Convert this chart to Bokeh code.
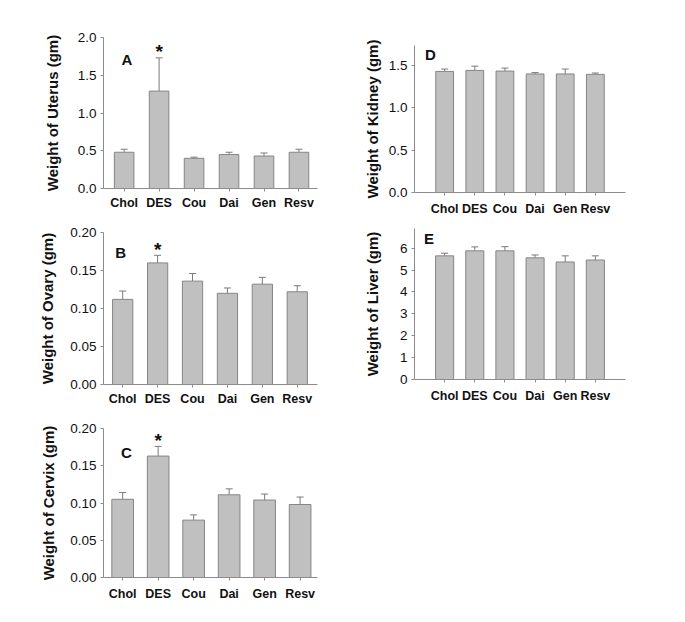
from bokeh.plotting import figure
from bokeh.models import ColumnDataSource, Whisker, TeeHead, FixedTicker, NumeralTickFormatter, Range1d
from bokeh.layouts import row, column
from bokeh.embed import file_html
from bokeh.resources import INLINE
from bokeh.core.properties import value

# ---------------- data ----------------
groups = ["Chol", "DES", "Cou", "Dai", "Gen", "Resv"]

uterus = [0.48, 1.29, 0.40, 0.45, 0.43, 0.48]
uterus_se = [0.04, 0.44, 0.015, 0.03, 0.04, 0.04]

ovary = [0.112, 0.160, 0.136, 0.120, 0.132, 0.122]
ovary_se = [0.011, 0.010, 0.010, 0.007, 0.009, 0.008]

cervix = [0.105, 0.163, 0.077, 0.111, 0.104, 0.098]
cervix_se = [0.009, 0.013, 0.007, 0.008, 0.008, 0.010]

kidney = [1.425, 1.437, 1.429, 1.395, 1.395, 1.390]
kidney_se = [0.028, 0.050, 0.035, 0.016, 0.058, 0.016]

liver = [5.65, 5.88, 5.88, 5.56, 5.37, 5.46]
liver_se = [0.12, 0.18, 0.19, 0.13, 0.28, 0.19]

significant = ["DES"]  # marked with *

# ---------------- style ----------------
FONT = "Liberation Sans"
BAR_FILL = "#c0c0c0"
BAR_LINE = "#858585"
AXIS_COLOR = "#8c8c8c"
TEXT = "#111111"


def panel(vals, se, ylabel, letter, letter_pos, xr, yr, yticks, yfmt,
          border, frame, bar_w, label_standoff, xlab_standoff, star=True):
    bl, br, bt, bb = border
    fw, fh = frame
    p = figure(width=bl + fw + br, height=bt + fh + bb,
               x_range=Range1d(*xr), y_range=Range1d(*yr),
               output_backend="svg", toolbar_location=None,
               min_border_left=bl, min_border_right=br,
               min_border_top=bt, min_border_bottom=bb)
    p.outline_line_color = None
    p.xgrid.grid_line_color = None
    p.ygrid.grid_line_color = None
    p.background_fill_color = "white"
    p.border_fill_color = "white"

    xs = list(range(1, len(groups) + 1))
    upper = [v + e for v, e in zip(vals, se)]
    src = ColumnDataSource(dict(x=xs, top=vals, upper=upper, name=groups))
    p.vbar(x="x", top="top", width=bar_w, source=src,
           fill_color=BAR_FILL, line_color=BAR_LINE, line_width=1)
    w = Whisker(base="x", upper="upper", lower="top", source=src,
                dimension="height", line_color="#7a7a7a", line_width=1,
                lower_head=None,
                upper_head=TeeHead(size=7, line_color="#7a7a7a", line_width=1))
    p.add_layout(w)

    if star:
        sx = [x for x, g in zip(xs, groups) if g in significant]
        sy = [u for u, g in zip(upper, groups) if g in significant]
        p.text(x=sx, y=sy, text=["*"] * len(sx), text_align="center",
               text_baseline="alphabetic", y_offset=-6,
               text_font=value(FONT), text_font_style="bold",
               text_font_size="19px", text_color=TEXT)

    p.text(x=[letter_pos[0]], y=[letter_pos[1]], text=[letter],
           text_align="center", text_baseline="middle",
           text_font=value(FONT), text_font_style="bold",
           text_font_size="15px", text_color=TEXT)

    # x axis
    xa = p.xaxis[0]
    xa.ticker = FixedTicker(ticks=xs)
    xa.major_label_overrides = {x: g for x, g in zip(xs, groups)}
    xa.minor_tick_line_color = None
    xa.major_tick_out = 3
    xa.major_tick_in = 0
    xa.axis_line_color = AXIS_COLOR
    xa.major_tick_line_color = AXIS_COLOR
    xa.major_label_text_font = FONT
    xa.major_label_text_font_style = "bold"
    xa.major_label_text_font_size = "12.5px"
    xa.major_label_text_color = TEXT
    xa.major_label_standoff = xlab_standoff

    # y axis
    ya = p.yaxis[0]
    ya.ticker = FixedTicker(ticks=yticks)
    ya.formatter = NumeralTickFormatter(format=yfmt)
    ya.minor_tick_line_color = None
    ya.major_tick_out = 3
    ya.major_tick_in = 0
    ya.axis_line_color = AXIS_COLOR
    ya.major_tick_line_color = AXIS_COLOR
    ya.major_label_text_font = FONT
    ya.major_label_text_font_size = "13.5px"
    ya.major_label_text_color = TEXT
    ya.major_label_standoff = 4
    ya.axis_label = ylabel
    ya.axis_label_text_font = FONT
    ya.axis_label_text_font_style = "bold"
    ya.axis_label_text_font_size = "15px"
    ya.axis_label_text_color = TEXT
    ya.axis_label_standoff = label_standoff
    return p


pA = panel(uterus, uterus_se, "Weight of Uterus (gm)", "A", (1.08, 1.71),
           (0.41, 6.53), (0, 2.0), [0, 0.5, 1.0, 1.5, 2.0], "0.0",
           (99, 23, 37, 27), (218, 151), 0.56, 14, 4)
pB = panel(ovary, ovary_se, "Weight of Ovary (gm)", "B", (0.945, 0.1737),
           (0.45, 6.58), (0, 0.20), [0, 0.05, 0.10, 0.15, 0.20], "0.00",
           (102, 15, 17, 26), (223, 152), 0.58, 11, 4)
pC = panel(cervix, cervix_se, "Weight of Cervix (gm)", "C", (1.108, 0.1674),
           (0.46, 6.49), (0, 0.20), [0, 0.05, 0.10, 0.15, 0.20], "0.00",
           (103, 23, 18, 35), (214, 149), 0.61, 10, 6)
pD = panel(kidney, kidney_se, "Weight of Kidney (gm)", "D", (0.53, 1.62),
           (0, 7), (0, 1.73), [0, 0.5, 1.0, 1.5], "0.0",
           (74, 50, 45, 26), (211, 147), 0.59, 5, 6, star=False)
pE = panel(liver, liver_se, "Weight of Liver (gm)", "E", (0.48, 6.44),
           (0, 7), (0, 6.9), [0, 1, 2, 3, 4, 5, 6], "0",
           (74, 43, 10, 33), (218, 151), 0.60, 16, 6, star=False)

layout = row(column(pA, pB, pC), column(pD, pE))

open("out.html", "w").write(file_html(layout, INLINE))
